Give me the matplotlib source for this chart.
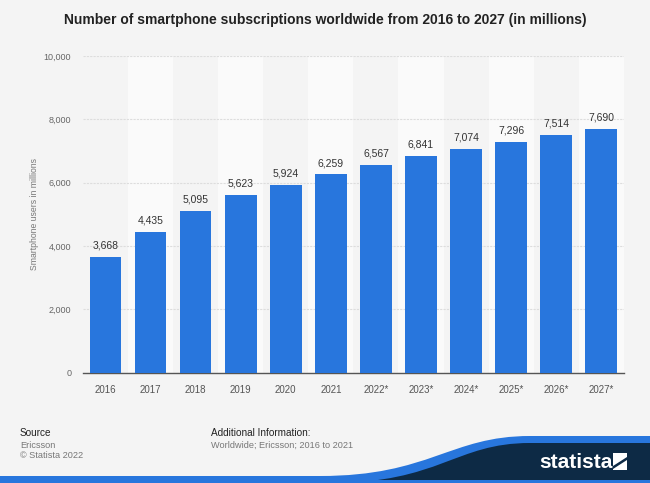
import numpy as np
import matplotlib.pyplot as plt
from matplotlib.path import Path
from matplotlib.patches import PathPatch, Polygon

years = ['2016', '2017', '2018', '2019', '2020', '2021',
         '2022*', '2023*', '2024*', '2025*', '2026*', '2027*']
users = [3668, 4435, 5095, 5623, 5924, 6259, 6567, 6841, 7074, 7296, 7514, 7690]
yticks = [0, 2000, 4000, 6000, 8000, 10000]

plt.rcParams['font.family'] = ['Liberation Sans', 'DejaVu Sans']

bg = '#f4f4f4'
blue = '#2876dd'

fig = plt.figure(figsize=(6.5, 4.83), dpi=100, facecolor=bg)
ax = fig.add_axes([0.1277, 0.2284, 0.832, 0.6557])
ax.set_facecolor(bg)

x = np.arange(len(years))
# alternating lighter column bands
for i in x:
    if i % 2 == 1:
        ax.axvspan(i - 0.5, i + 0.5, color='#fafafa', zorder=0, lw=0)

ax.bar(x, users, width=0.70, color=blue, zorder=3)
for xi, v in zip(x, users):
    ax.text(xi, v + 200, f'{v:,}', ha='center', va='bottom', fontsize=7.5, color='#333333', zorder=4)

ax.set_xlim(-0.5, len(years) - 0.5)
ax.set_ylim(0, 10000)
ax.set_yticks(yticks)
ax.set_yticklabels([f'{t:,}' for t in yticks])
ax.yaxis.grid(True, color='#dddddd', lw=0.8, ls=(0, (2, 1)), zorder=1)
ax.set_axisbelow(True)
ax.set_xticks(x)
ax.set_xticklabels(years)
ax.tick_params(axis='x', length=0, labelsize=7, labelcolor='#555555', pad=9)
ax.tick_params(axis='y', length=0, labelsize=6.5, labelcolor='#666666', pad=8.5)
for s in ['top', 'right', 'left']:
    ax.spines[s].set_visible(False)
ax.spines['bottom'].set_color('#555555')
ax.spines['bottom'].set_linewidth(1)
ax.set_ylabel('Smartphone users in millions', fontsize=6.2, color='#777777', labelpad=3.5)

fig.text(0.5, 0.958, 'Number of smartphone subscriptions worldwide from 2016 to 2027 (in millions)',
         ha='center', va='center', fontsize=10, fontweight='bold', color='#222222')

# footer
fig.text(20 / 650, 1 - 433 / 483, 'Source', fontsize=7.2, color='#222222', va='center')
fig.text(20 / 650, 1 - 445 / 483, 'Ericsson', fontsize=6.6, color='#777777', va='center')
fig.text(20 / 650, 1 - 456 / 483, '\u00a9 Statista 2022', fontsize=6.6, color='#777777', va='center')
fig.text(211 / 650, 1 - 433 / 483, 'Additional Information:', fontsize=7.2, color='#222222', va='center')
fig.text(211 / 650, 1 - 445 / 483, 'Worldwide; Ericsson; 2016 to 2021', fontsize=6.6, color='#777777', va='center')

# statista logo swoosh
fax = fig.add_axes([0, 0, 1, 1], zorder=-1)
fax.set_xlim(0, 650)
fax.set_ylim(483, 0)
fax.axis('off')
fax.patch.set_alpha(0)

def swoosh(dy):
    verts = [(0, 483), (0, 480 - dy), (320, 480 - dy),
             (430, 480 - dy), (450, 440 - dy), (530, 440 - dy),
             (650, 440 - dy), (650, 483), (0, 483)]
    codes = [Path.MOVETO, Path.LINETO, Path.LINETO,
             Path.CURVE4, Path.CURVE4, Path.CURVE4,
             Path.LINETO, Path.LINETO, Path.CLOSEPOLY]
    return Path(verts, codes)

fax.add_patch(PathPatch(swoosh(4), color=blue, lw=0))
navy = Path([(330, 483), (440, 483), (455, 443), (530, 443), (650, 443), (650, 483), (330, 483)],
            [Path.MOVETO, Path.CURVE4, Path.CURVE4, Path.CURVE4, Path.LINETO, Path.LINETO, Path.CLOSEPOLY])
fax.add_patch(PathPatch(navy, color='#0d2a45', lw=0))
fax.add_patch(Polygon([(0, 480), (650, 480), (650, 483), (0, 483)], color=blue, lw=0))
fax.text(576, 462, 'statista', ha='center', va='center', fontsize=15, fontweight='bold', color='white')
fax.add_patch(Polygon([(613, 453), (627, 453), (627, 470), (613, 470)], color='white', lw=0))
fax.add_patch(Polygon([(613, 466), (627, 457), (627, 460), (613, 469)], color='#0d2a45', lw=0))

fig.savefig('out.png', dpi=100, facecolor=bg)
